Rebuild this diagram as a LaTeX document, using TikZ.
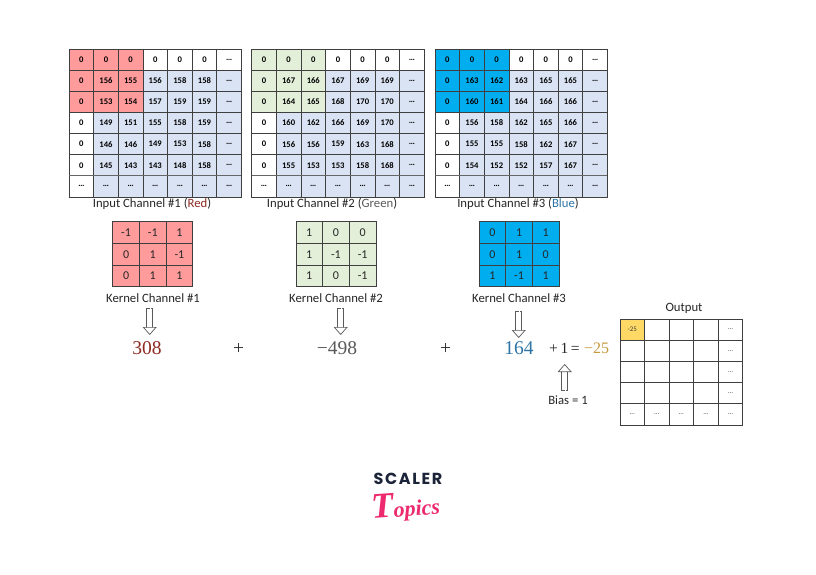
\documentclass[tikz,border=0pt]{standalone}
\usepackage{fontspec}
\setmainfont{Carlito}
\newfontfamily\numfont{Liberation Serif}
\newfontfamily\logofont{Poppins}
\newfontfamily\topicsfont{Liberation Serif}
\usetikzlibrary{arrows.meta}
\definecolor{kred}{HTML}{FF9B9B}
\definecolor{kgreen}{HTML}{E3EFD9}
\definecolor{kblue}{HTML}{00ADEF}
\definecolor{pale}{HTML}{DAE3F3}
\definecolor{gold}{HTML}{FFD966}
\definecolor{gline}{HTML}{3F3F3F}
\definecolor{numred}{HTML}{8E2A22}
\definecolor{numgray}{HTML}{5A5A5A}
\definecolor{numblue}{HTML}{2E75A6}
\definecolor{numgold}{HTML}{C59A3C}
\definecolor{navy}{HTML}{1B2438}
\definecolor{pinkish}{HTML}{EE2A6F}
\tikzset{
  gridcell/.style={draw=gline,line width=.8pt,inner sep=0pt,outer sep=0pt,font=\fontsize{8.6}{10}\selectfont\bfseries,text=black},
  kernelcell/.style={draw=gline,line width=.8pt,inner sep=0pt,outer sep=0pt,minimum width=26.7pt,minimum height=21.7pt,font=\fontsize{12}{14}\selectfont,text=black!85},
  outcell/.style={draw=gline,line width=.8pt,inner sep=0pt,outer sep=0pt,minimum width=24.55pt,minimum height=21.2pt,font=\fontsize{7}{8}\selectfont,text=black!75},
  caption/.style={font=\fontsize{12.7}{14}\selectfont,inner sep=0pt,text=black!85},
  bignum/.style={font=\numfont\fontsize{19.5}{21}\selectfont,inner sep=0pt},
  hollow/.style={
    preaction={-,draw=numgray,line width=6.8pt,shorten >=7pt},
    preaction={-,draw=white,line width=5.4pt,shorten >=6pt,shorten <=.7pt},
    draw=white,line width=.1pt,
    -{Triangle[length=8pt,width=14pt,color=numgray,fill=white,line width=.7pt]}},
}
\newcommand{\cellgrid}[5]{%
  \foreach \row [count=\r] in {#5} {%
    \foreach \v [count=\c] in \row {%
      \def\fc{pale}%
      \ifnum\r=1 \def\fc{white}\fi
      \ifnum\c=1 \def\fc{white}\fi
      \ifnum\r<4 \ifnum\c<4 \def\fc{#4}\fi\fi
      \pgfmathsetmacro\px{#2+(\c-.5)*24.64}%
      \pgfmathsetmacro\py{#3+(\r-.5)*21.14}%
      \node[gridcell,fill=\fc,minimum width=24.64pt,minimum height=21.14pt] (#1-\r-\c) at (\px,\py) {\v};
    }%
  }%
  \draw[line width=1.1pt,draw=black!60] (#1-7-1.north west) -- (#1-7-7.north east);
}
\newcommand{\kerngrid}[5]{%
  \foreach \row [count=\r] in {#5} {%
    \foreach \v [count=\c] in \row {%
      \pgfmathsetmacro\px{#2+(\c-.5)*26.7}%
      \pgfmathsetmacro\py{#3+(\r-.5)*21.7}%
      \node[kernelcell,fill=#4] (#1-\r-\c) at (\px,\py) {\v};
    }%
  }%
}
\begin{document}
\begin{tikzpicture}[x=1pt,y=-1pt]
\useasboundingbox[fill=white] (0,0) rectangle (816,575);
\cellgrid{ga}{69}{49}{kred}{{0,0,0,0,0,0,…},{0,156,155,156,158,158,…},{0,153,154,157,159,159,…},{0,149,151,155,158,159,…},{0,146,146,149,153,158,…},{0,145,143,143,148,158,…},{…,…,…,…,…,…,…}}
\cellgrid{gb}{251.7}{49}{kgreen}{{0,0,0,0,0,0,…},{0,167,166,167,169,169,…},{0,164,165,168,170,170,…},{0,160,162,166,169,170,…},{0,156,156,159,163,168,…},{0,155,153,153,158,168,…},{…,…,…,…,…,…,…}}
\cellgrid{gc}{435}{49}{kblue}{{0,0,0,0,0,0,…},{0,163,162,163,165,165,…},{0,160,161,164,166,166,…},{0,156,158,162,165,166,…},{0,155,155,158,162,167,…},{0,154,152,152,157,167,…},{…,…,…,…,…,…,…}}
\node[caption] (ica) at (152,204) {Input Channel \#1 (\textcolor{numred}{Red})};
\node[caption] (icb) at (332,204) {Input Channel \#2 (\textcolor{numgray}{Green})};
\node[caption] (icc) at (518,204) {Input Channel \#3 (\textcolor{numblue}{Blue})};
\kerngrid{ka}{112.7}{221.7}{kred}{{-1,-1,1},{0,1,-1},{0,1,1}}
\kerngrid{kb}{295.9}{221.7}{kgreen}{{1,0,0},{1,-1,-1},{1,0,-1}}
\kerngrid{kc}{479}{221.7}{kblue}{{0,1,1},{0,1,0},{1,-1,1}}
\node[caption] (kca) at (153,298) {Kernel Channel \#1};
\node[caption] (kcb) at (336,298) {Kernel Channel \#2};
\node[caption] (kcc) at (519,298) {Kernel Channel \#3};
\node[bignum,text=numred] (va) at (147,348.5) {308};
\node[bignum,text=black!80] (pa) at (238.5,349) {+};
\node[bignum,text=numgray] (vb) at (337,348.5) {−498};
\node[bignum,text=black!80] (pb) at (445.5,349) {+};
\node[bignum,text=numblue] (vc) at (519,348.5) {164};
\node[font=\numfont\fontsize{15.5}{17}\selectfont,inner sep=0pt,text=black!85,anchor=west] (eq) at (549,348.5) {+\,1\,=};
\node[font=\numfont\fontsize{16}{18}\selectfont,inner sep=0pt,text=numgold,anchor=west] (vd) at (584,348.5) {−25};
\node[caption] (bias) at (568,400) {Bias = 1};
\node[caption] (outl) at (684,308) {Output};
\coordinate (fa) at (149.7,308);\coordinate (ta) at (149.7,335);
\coordinate (fb) at (340.7,308);\coordinate (tb) at (340.7,335);
\coordinate (fc) at (518.7,311);\coordinate (tc) at (518.7,338);
\coordinate (fd) at (564.7,391);\coordinate (td) at (564.7,364);
\draw[hollow] (fa) -- (ta);
\draw[hollow] (fb) -- (tb);
\draw[hollow] (fc) -- (tc);
\draw[hollow] (fd) -- (td);
\foreach \row [count=\r] in {{-25,,,,…},{,,,,…},{,,,,…},{,,,,…},{…,…,…,…,…}} {
  \foreach \v [count=\c] in \row {
    \pgfmathsetmacro\px{620+(\c-.5)*24.55}
    \pgfmathsetmacro\py{319+(\r-.5)*21.2}
    \node[outcell] (o-\r-\c) at (\px,\py) {\v};
  }
}
\node[outcell,fill=gold] (oy) at (o-1-1) {-25};
\node[font=\logofont\bfseries\fontsize{16}{18}\selectfont,text=navy,inner sep=0pt] (sc) at (408,479) {\addfontfeature{LetterSpace=10}SCALER};
\node[font=\topicsfont\bfseries\itshape\fontsize{36}{38}\selectfont,text=pinkish,inner sep=0pt,anchor=base west,rotate=4] (tp) at (372,519) {T\fontsize{22}{24}\selectfont opics};
\end{tikzpicture}
\end{document}
